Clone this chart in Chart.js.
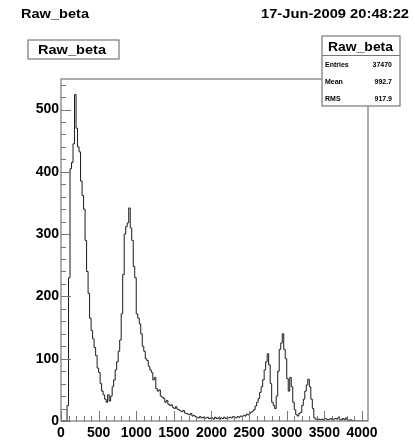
<!DOCTYPE html>
<html>
<head>
<meta charset="utf-8">
<script src="https://cdn.jsdelivr.net/npm/chart.js@4/dist/chart.umd.min.js"></script>
<style>
  html, body { margin: 0; padding: 0; background: #fff; }
  #c { display: block; }
</style>
</head>
<body>
<canvas id="c" width="415" height="442"></canvas>
<script>
// ---- data ----
const histName = "Raw_beta";
const dateText = "17-Jun-2009 20:48:22";
const statLabels = ["Entries", "Mean", "RMS"];
const statValues = ["37470", "992.7", "917.9"];
const binWidth = 20;
const xMin = 0, xMax = 4080;
const yMin = 0, yMax = 549;
const xTickValues = [0, 500, 1000, 1500, 2000, 2500, 3000, 3500, 4000];
const yTickValues = [0, 100, 200, 300, 400, 500];
const xMinorStep = 100;
const yMinorStep = 20;
// bin contents, bins of width 20 starting at 0
const counts = [
  0, 0, 0, 0, 0, 25, 230, 405, 415, 445,
  524, 470, 440, 432, 385, 362, 340, 290, 240, 205,
  165, 145, 132, 118, 105, 85, 78, 60, 48, 42,
  35, 30, 42, 32, 40, 55, 66, 82, 95, 112,
  130, 172, 235, 300, 312, 318, 342, 310, 290, 248,
  230, 172, 165, 156, 140, 120, 112, 100, 97, 88,
  82, 78, 66, 70, 52, 48, 50, 40, 38, 36,
  30, 33, 27, 25, 26, 22, 20, 23, 19, 18,
  16, 15, 17, 13, 12, 11, 10, 12, 8, 9,
  7, 6, 5, 7, 5, 6, 4, 5, 6, 4,
  5, 5, 3, 6, 4, 5, 3, 5, 4, 6,
  4, 5, 5, 6, 5, 7, 6, 5, 7, 6,
  8, 7, 9, 8, 11, 10, 12, 14, 16, 18,
  24, 30, 36, 46, 55, 66, 82, 95, 108, 90,
  60, 30, 25, 20, 40, 80, 115, 125, 140, 115,
  100, 68, 48, 70, 55, 30, 18, 10, 8, 12,
  14, 25, 35, 48, 58, 67, 55, 35, 20, 5,
  3, 2, 3, 2, 3, 2, 4, 3, 2, 3,
  4, 2, 3, 4, 3, 6, 3, 2, 4, 2,
  5, 2, 1, 2, 1, 0, 0, 0, 0, 0,
  0, 0, 0, 0
];

// ---- build step points from the bins ----
const points = counts.map((c, i) => ({ x: xMin + i * binWidth, y: c }));
points.push({ x: xMin + counts.length * binWidth, y: counts[counts.length - 1] });

const FONT = '"Liberation Sans", Arial, Helvetica, sans-serif';

function fitText(ctx, text, left, right, baseline, size) {
  ctx.font = `bold ${size}px ${FONT}`;
  const w = ctx.measureText(text).width;
  ctx.save();
  ctx.translate(left, baseline);
  ctx.scale((right - left) / w, 1);
  ctx.textAlign = 'left';
  ctx.textBaseline = 'alphabetic';
  ctx.fillStyle = '#000';
  ctx.fillText(text, 0, 0);
  ctx.restore();
}

const rootDecor = {
  id: 'rootDecor',
  afterDraw(chart) {
    const ctx = chart.ctx;
    const a = chart.chartArea;
    const xs = chart.scales.x, ys = chart.scales.y;
    ctx.save();
    // frame
    ctx.strokeStyle = '#777';
    ctx.lineWidth = 1.2;
    ctx.strokeRect(a.left, a.top, a.right - a.left, a.bottom - a.top);
    // ticks inside the frame
    ctx.strokeStyle = '#777';
    ctx.lineWidth = 1;
    ctx.beginPath();
    for (let v = xMin; v <= xMax; v += xMinorStep) {
      const px = Math.round(xs.getPixelForValue(v)) + 0.5;
      const len = xTickValues.includes(v) ? 10 : 5;
      ctx.moveTo(px, a.bottom);
      ctx.lineTo(px, a.bottom - len);
    }
    for (let v = yMin; v <= yMax; v += yMinorStep) {
      const py = Math.round(ys.getPixelForValue(v)) + 0.5;
      const len = yTickValues.includes(v) ? 10 : 5;
      ctx.moveTo(a.left, py);
      ctx.lineTo(a.left + len, py);
    }
    ctx.stroke();

    // top texts
    fitText(ctx, histName, 21, 89, 18, 12);
    fitText(ctx, dateText, 261, 409, 18, 12);

    // title box
    ctx.fillStyle = '#fff';
    ctx.fillRect(28, 40, 91, 19);
    ctx.strokeStyle = '#777';
    ctx.lineWidth = 1.2;
    ctx.strokeRect(28, 40, 91, 19);
    fitText(ctx, histName, 38, 106, 54, 12);

    // stats box
    ctx.fillStyle = '#fff';
    ctx.fillRect(322, 36, 78, 70);
    ctx.strokeStyle = '#777';
    ctx.strokeRect(322, 36, 78, 70);
    ctx.beginPath();
    ctx.moveTo(322, 55.5);
    ctx.lineTo(400, 55.5);
    ctx.stroke();
    fitText(ctx, histName, 328, 393, 51, 12);
    const rowBase = [67, 84, 101];
    ctx.fillStyle = '#000';
    for (let i = 0; i < statLabels.length; i++) {
      ctx.font = `bold 7px ${FONT}`;
      ctx.textAlign = 'left';
      ctx.fillText(statLabels[i], 325, rowBase[i]);
      ctx.textAlign = 'right';
      ctx.fillText(statValues[i], 392, rowBase[i]);
    }
    ctx.restore();
  }
};

new Chart(document.getElementById('c'), {
  type: 'line',
  data: {
    datasets: [{
      data: points,
      stepped: 'after',
      borderColor: '#1a1a1a',
      borderWidth: 1,
      pointRadius: 0,
      fill: false,
      tension: 0
    }]
  },
  options: {
    responsive: false,
    animation: false,
    devicePixelRatio: 1,
    layout: { padding: { top: 79, right: 47, left: 0, bottom: 0 } },
    plugins: { legend: { display: false }, tooltip: { enabled: false }, title: { display: false } },
    scales: {
      x: {
        type: 'linear',
        min: xMin, max: xMax,
        grid: { display: false, drawTicks: false },
        border: { display: false },
        afterBuildTicks: s => { s.ticks = xTickValues.map(v => ({ value: v })); },
        afterFit: s => { s.height = 21; },
        ticks: {
          autoSkip: false, maxRotation: 0, minRotation: 0, padding: 4,
          callback: v => String(v),
          color: '#000', font: { family: FONT, size: 14, weight: 'bold' }
        }
      },
      y: {
        min: yMin, max: yMax,
        grid: { display: false, drawTicks: false },
        border: { display: false },
        afterBuildTicks: s => { s.ticks = yTickValues.map(v => ({ value: v })); },
        afterFit: s => { s.width = 61; },
        ticks: {
          autoSkip: false, padding: 2,
          callback: v => String(v),
          color: '#000', font: { family: FONT, size: 14, weight: 'bold' }
        }
      }
    }
  },
  plugins: [rootDecor]
});
</script>
</body>
</html>
